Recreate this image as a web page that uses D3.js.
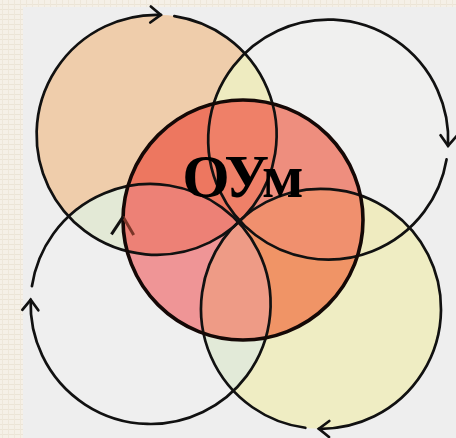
<!DOCTYPE html>
<html>
<head>
<meta charset="utf-8">
<script src="https://cdn.jsdelivr.net/npm/d3@7"></script>
<style>
  body { margin: 0; background: #f4efe6; }
  svg { display: block; }
</style>
</head>
<body>
<div id="chart-area"></div>
<script>
// diagram data (units: radius of the central circle = 1)
const circleNames = ["TL", "TR", "BL", "BR"]
const centerX = [-0.72, 0.71, -0.77, 0.65]
const centerY = [-0.71, -0.67, 0.70, 0.74]
const radius = [1, 1, 1, 1]
const arrowAngle = [-88, 3, 182, 91]   // degrees, where the arrow tip sits
const gapAngle = 6.5
const lensPairs = [["TL", "TR"], ["TL", "BL"], ["TR", "BR"], ["BL", "BR"]]
const centralArrowAngle = 181.5
const label = "ОУм"

// colours
const outerFill = d3.scaleOrdinal().domain(circleNames)
	.range(["#efcdab", "#f0f0ef", "#efefef", "#efedc3"])
const outerLens = ["#eeebc0", "#e3e9d6", "#efebc0", "#e2ead8"]
const innerFill = d3.scaleOrdinal().domain(circleNames)
	.range(["#ed7760", "#ee8e7e", "#ef9596", "#f09466"])
const innerLens = ["#ef8068", "#ed8176", "#f0906e", "#ee9b86"]

const WIDTH = 456
const HEIGHT = 438

const x = d3.scaleLinear().domain([-1, 1]).range([123, 363])
const y = d3.scaleLinear().domain([-1, 1]).range([100, 340])
const rad = r => x(r) - x(0)

const circles = circleNames.map((n, i) => ({
	name: n, cx: x(centerX[i]), cy: y(centerY[i]), r: rad(radius[i]), arrow: arrowAngle[i]
}))
const byName = {}
circles.forEach(c => byName[c.name] = c)
const central = { cx: x(0), cy: y(0), r: rad(1) }

const svg = d3.select("#chart-area").append("svg")
	.attr("width", WIDTH)
	.attr("height", HEIGHT)

const defs = svg.append("defs")

// background texture
const pat = defs.append("pattern")
	.attr("id", "tex")
	.attr("width", 6).attr("height", 5)
	.attr("patternUnits", "userSpaceOnUse")
pat.append("rect").attr("width", 6).attr("height", 5).attr("fill", "#f5f0e7")
pat.append("line").attr("x1", 0).attr("x2", 6).attr("y1", 4.5).attr("y2", 4.5)
	.attr("stroke", "#ebe4d6").attr("stroke-width", 1)
pat.append("line").attr("x1", 2.5).attr("x2", 2.5).attr("y1", 0).attr("y2", 5)
	.attr("stroke", "#eee7da").attr("stroke-width", 1)

svg.append("rect").attr("width", WIDTH).attr("height", HEIGHT).attr("fill", "url(#tex)")
svg.append("rect")
	.attr("x", 23).attr("y", 7)
	.attr("width", WIDTH - 23).attr("height", HEIGHT - 7)
	.attr("fill", "#eeeeee")

// clip paths
circles.forEach(c => {
	defs.append("clipPath").attr("id", "clip-" + c.name)
		.append("circle").attr("cx", c.cx).attr("cy", c.cy).attr("r", c.r)
})
defs.append("clipPath").attr("id", "clip-central")
	.append("circle").attr("cx", central.cx).attr("cy", central.cy).attr("r", central.r)

// outer fills
const outer = svg.append("g")
outer.selectAll("circle.fill")
	.data(circles)
	.join("circle")
	.attr("class", "fill")
	.attr("cx", d => d.cx).attr("cy", d => d.cy).attr("r", d => d.r)
	.attr("fill", d => outerFill(d.name))

lensPairs.forEach((p, i) => {
	const b = byName[p[1]]
	outer.append("g").attr("clip-path", `url(#clip-${p[0]})`)
		.append("circle")
		.attr("cx", b.cx).attr("cy", b.cy).attr("r", b.r)
		.attr("fill", outerLens[i])
})

// central circle fills
const inner = svg.append("g").attr("clip-path", "url(#clip-central)")
inner.append("circle")
	.attr("cx", central.cx).attr("cy", central.cy).attr("r", central.r)
	.attr("fill", "#ee8a78")
inner.selectAll("circle.fill")
	.data(circles)
	.join("circle")
	.attr("class", "fill")
	.attr("cx", d => d.cx).attr("cy", d => d.cy).attr("r", d => d.r)
	.attr("fill", d => innerFill(d.name))
lensPairs.forEach((p, i) => {
	const b = byName[p[1]]
	inner.append("g").attr("clip-path", `url(#clip-${p[0]})`)
		.append("circle")
		.attr("cx", b.cx).attr("cy", b.cy).attr("r", b.r)
		.attr("fill", innerLens[i])
})

// arrowhead (clockwise travel) at angle a on circle c
const rads = d => d * Math.PI / 180
function arrowHead(c, a, len, spread) {
	const t = rads(a)
	const tx = c.cx + c.r * Math.cos(t), ty = c.cy + c.r * Math.sin(t)
	const dir = Math.atan2(Math.cos(t), -Math.sin(t))  // tangent
	const w1 = dir + Math.PI - rads(spread), w2 = dir + Math.PI + rads(spread)
	return [[tx + len * Math.cos(w1), ty + len * Math.sin(w1)], [tx, ty],
		[tx + len * Math.cos(w2), ty + len * Math.sin(w2)]]
}
const lineGen = d3.line()

// outer strokes with gaps + arrows
const strokes = svg.append("g")
	.attr("fill", "none")
	.attr("stroke", "#111")
	.attr("stroke-width", 2.7)
	.attr("stroke-linecap", "round")
circles.forEach(c => {
	const p = d3.path()
	p.arc(c.cx, c.cy, c.r, rads(c.arrow + gapAngle), rads(c.arrow + 360))
	strokes.append("path").attr("d", p.toString())
	strokes.append("path").attr("d", lineGen(arrowHead(c, c.arrow, 13, 38)))
})

// central outline
svg.append("circle")
	.attr("cx", central.cx).attr("cy", central.cy).attr("r", central.r)
	.attr("fill", "none")
	.attr("stroke", "#140806")
	.attr("stroke-width", 3.6)

// small arrow on the central circle
const ca = arrowHead(central, centralArrowAngle, 21, 32)
svg.append("path").attr("d", lineGen([ca[0], ca[1]]))
	.attr("stroke", "#7a3527").attr("stroke-width", 3).attr("fill", "none")
svg.append("path").attr("d", lineGen([ca[1], ca[2]]))
	.attr("stroke", "#111").attr("stroke-width", 3).attr("fill", "none")

// label
svg.append("text")
	.attr("x", 242)
	.attr("y", 197)
	.attr("text-anchor", "middle")
	.attr("font-family", "'Liberation Serif', 'Times New Roman', serif")
	.attr("font-weight", "bold")
	.attr("font-size", "61px")
	.attr("letter-spacing", "-2px")
	.attr("fill", "#000")
	.text(label)
</script>
</body>
</html>
